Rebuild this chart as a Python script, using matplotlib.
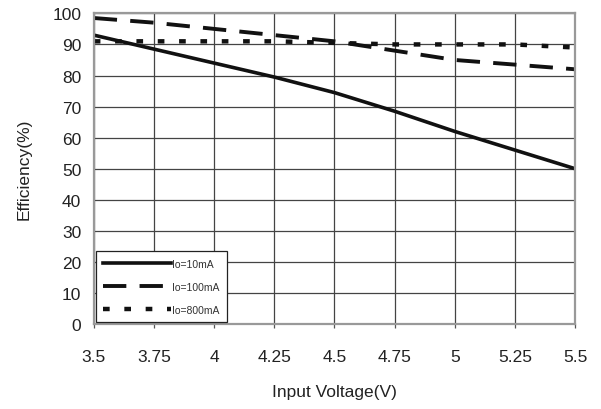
import matplotlib
matplotlib.use("Agg")
import matplotlib.pyplot as plt

# data
vin = [3.5, 3.75, 4.0, 4.25, 4.5, 4.75, 5.0, 5.25, 5.5]
eff_10ma = [93, 88.5, 84, 79.5, 74.5, 68.5, 62, 56, 50]
eff_100ma = [98.5, 97, 95, 93, 91, 88, 85, 83.5, 82]
eff_800ma = [91, 91, 91, 91, 90.5, 90, 90, 90, 89]
labels = ["Io=10mA", "Io=100mA", "Io=800mA"]
xticks = [3.5, 3.75, 4, 4.25, 4.5, 4.75, 5, 5.25, 5.5]
xtick_labels = ["3.5", "3.75", "4", "4.25", "4.5", "4.75", "5", "5.25", "5.5"]
yticks = list(range(0, 101, 10))

plt.rcParams['font.family'] = ['Liberation Sans', 'DejaVu Sans']

fig = plt.figure(figsize=(6.01, 4.10), dpi=100)
ax = fig.add_axes([0.156, 0.207, 0.801, 0.758])

ax.plot(vin, eff_10ma, color='#111111', lw=2.6, ls='-', label=labels[0])
ax.plot(vin, eff_100ma, color='#111111', lw=2.8, ls=(0, (6, 3.4)), label=labels[1])
ax.plot(vin, eff_800ma, color='#111111', lw=3.2, ls=(0, (1.5, 3.3)), label=labels[2])

ax.set_xlim(3.5, 5.5)
ax.set_ylim(0, 100)
ax.set_xticks(xticks)
ax.set_xticklabels(xtick_labels)
ax.set_yticks(yticks)

ax.grid(True, color='#444444', lw=0.9)
ax.set_axisbelow(True)
for s in ax.spines.values():
    s.set_color('#999999')
    s.set_linewidth(1.6)

ax.tick_params(axis='x', length=3, width=0.9, color='#555555', pad=15,
               labelsize=12.5, labelcolor='#222222')
ax.tick_params(axis='y', length=0, pad=9, labelsize=12.5, labelcolor='#222222')

ax.set_xlabel("Input Voltage(V)", fontsize=12.5, color='#222222', labelpad=14)
ax.set_ylabel("Efficiency(%)", fontsize=12.5, color='#222222', labelpad=15)

leg = ax.legend(loc='lower left', bbox_to_anchor=(0.0, 0.0), fontsize=7.5,
                handlelength=6.5, handletextpad=0.1, borderpad=0.7,
                labelspacing=1.25, fancybox=False, framealpha=1,
                edgecolor='#222222', borderaxespad=0.2)
leg.get_frame().set_linewidth(0.9)
for t in leg.get_texts():
    t.set_color('#333333')

fig.savefig("out.png", dpi=100)
